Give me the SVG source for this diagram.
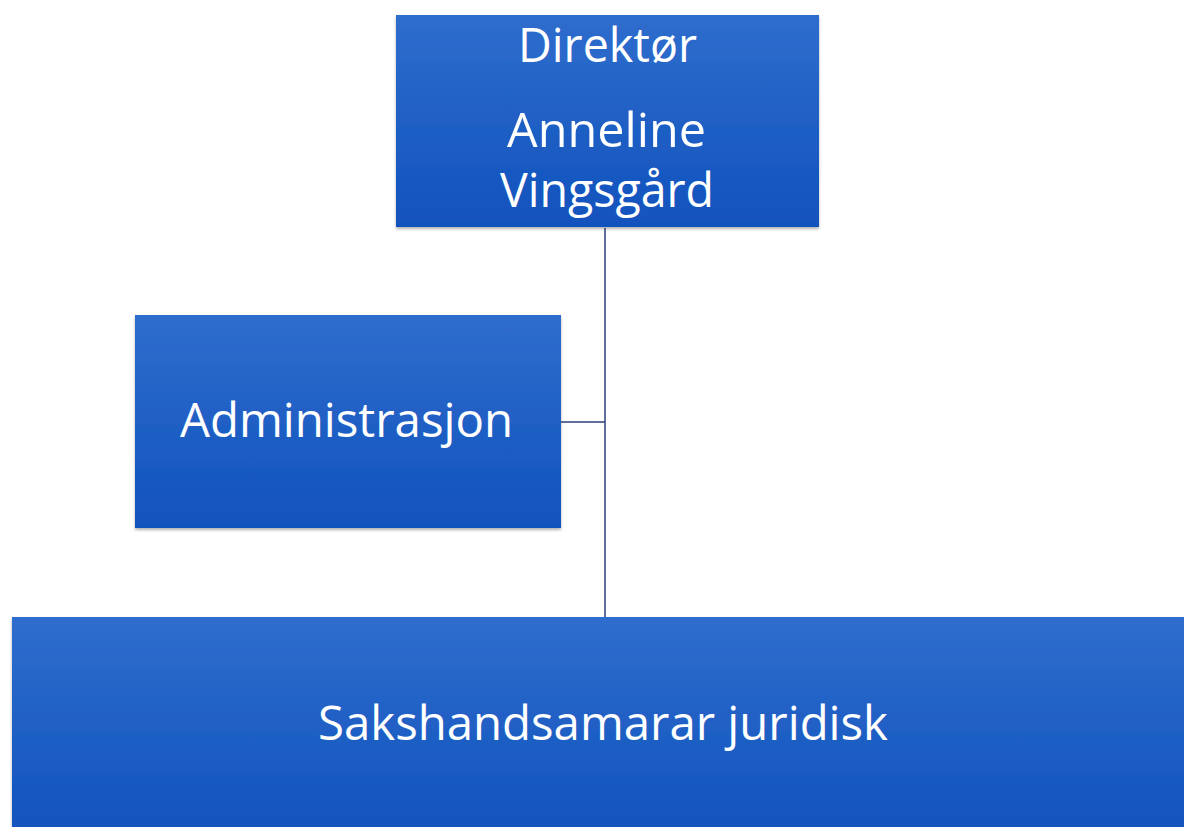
<svg xmlns="http://www.w3.org/2000/svg" width="1184" height="827" viewBox="0 0 1184 827">
<defs>
<linearGradient id="g" x1="0" y1="0" x2="0" y2="1">
<stop offset="0" stop-color="#2F6DCD"/>
<stop offset="1" stop-color="#1152BD"/>
</linearGradient>
<filter id="sh" x="-5%" y="-5%" width="110%" height="115%">
<feDropShadow dx="0" dy="2" stdDeviation="1.5" flood-color="#000" flood-opacity="0.3"/>
</filter>
</defs>
<style>
.box{fill:url(#g);filter:url(#sh)}
.t{font-family:"Open Sans","Noto Sans",sans-serif;font-size:48px;fill:#fff;text-anchor:middle}
.c{stroke:#2B3F7A;stroke-width:1.5;fill:none}
</style>
<rect width="1184" height="827" fill="#fff"/>
<g id="connectors">
<path class="c" d="M605 228V618"/>
<path class="c" d="M561 422H605"/>
</g>
<g id="direktor">
<rect class="box" x="396" y="15" width="423" height="212"/>
<text class="t" x="607.5" y="62" textLength="179" lengthAdjust="spacingAndGlyphs">Direktør</text>
<text class="t" x="606.5" y="147" textLength="199" lengthAdjust="spacingAndGlyphs">Anneline</text>
<text class="t" x="607" y="207" textLength="214" lengthAdjust="spacingAndGlyphs">Vingsgård</text>
</g>
<g id="administrasjon">
<rect class="box" x="135" y="315" width="426" height="213"/>
<text class="t" x="346.5" y="437" textLength="333" lengthAdjust="spacingAndGlyphs">Administrasjon</text>
</g>
<g id="sakshandsamarar">
<rect class="box" x="12" y="617" width="1180" height="220"/>
<text class="t" x="603" y="740" textLength="570" lengthAdjust="spacingAndGlyphs">Sakshandsamarar juridisk</text>
</g>
</svg>
